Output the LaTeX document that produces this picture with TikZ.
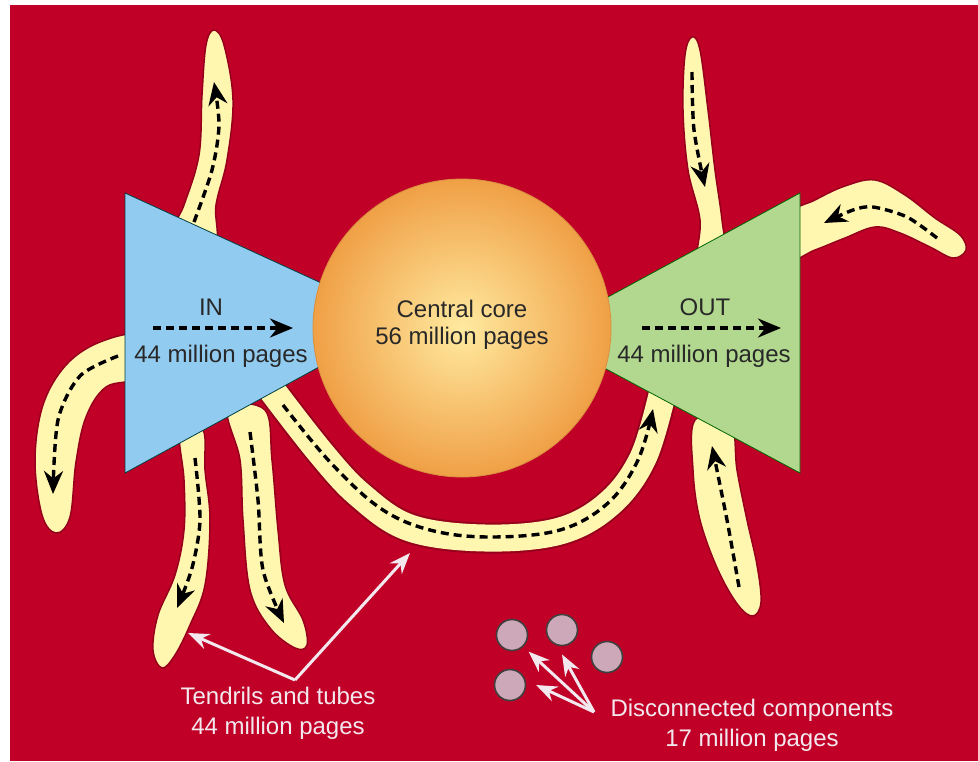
\documentclass[tikz,border=0pt]{standalone}
\usepackage{fontspec}
\setmainfont{Liberation Sans}
\usetikzlibrary{arrows.meta}
\usetikzlibrary{calc}
\definecolor{bgred}{RGB}{192,0,38}
\definecolor{inblue}{RGB}{146,203,240}
\definecolor{outgreen}{RGB}{178,216,143}
\definecolor{tendril}{RGB}{255,246,176}
\definecolor{halo}{RGB}{150,0,28}
\definecolor{coreyellow}{RGB}{255,234,160}
\definecolor{coreorange}{RGB}{240,160,70}
\definecolor{island}{RGB}{205,168,185}
\definecolor{paleink}{RGB}{242,232,238}
\definecolor{darkink}{RGB}{40,40,40}

\begin{document}
\begin{tikzpicture}[x=1pt, y=-1pt,
  tendrilshape/.style={fill=tendril, draw=halo, line width=1.5pt},
  flow/.style={line width=3.4pt, dash pattern=on 8pt off 5pt,
    -{Stealth[length=23pt,width=19pt]}},
  pointer/.style={draw=paleink, line width=3pt,
    -{Stealth[length=21pt,width=16pt,fill=paleink]}},
  redtext/.style={text=paleink, font=\fontsize{24}{30}\selectfont, align=center},
  darktext/.style={text=darkink, font=\fontsize{24}{29}\selectfont, align=center},
  comp/.style={circle, fill=island, draw=black!75, line width=1.6pt,
    minimum size=31pt, inner sep=0pt}]

%---------------------------------------
% Frame
%---------------------------------------
\fill[white] (0,0) rectangle (978,761);
\fill[bgred] (10,5) rectangle (978,761);
\useasboundingbox (0,0) rectangle (978,761);

%---------------------------------------
% Tendrils (under the panels)
%---------------------------------------
% in: upwards
\draw[tendrilshape] plot[smooth cycle, tension=0.6] coordinates {
  (170,240) (184,205) (199,155) (202,95) (206,45) (214,30) (224,45)
  (233,100) (227,160) (216,205) (214,245)};
\draw[flow] plot[smooth] coordinates {(194,222) (212,170) (219,125) (214,82)};

% in: left and down
\draw[tendrilshape] plot[smooth cycle, tension=0.6] coordinates {
  (140,336) (100,342) (66,365) (43,405) (35,460) (42,515) (56,533)
  (70,517) (76,462) (86,417) (106,387) (140,376)};
\draw[flow] plot[smooth] coordinates {(118,356) (80,376) (58,420) (53,494)};

% in: down (A)
\draw[tendrilshape] plot[smooth cycle, tension=0.6] coordinates {
  (180,430) (184,480) (184,530) (175,575) (158,615) (153,650) (162,668)
  (175,655) (190,625) (205,585) (210,520) (205,470) (203,430)};
\draw[flow] plot[smooth] coordinates {(195,458) (200,520) (192,568) (177,608)};

% in: down (B)
\draw[tendrilshape] plot[smooth cycle, tension=0.6] coordinates {
  (228,410) (240,460) (243,520) (250,590) (270,628) (295,648) (307,645)
  (303,620) (285,585) (278,530) (272,460) (265,410)};
\draw[flow] plot[smooth] coordinates {(250,432) (258,500) (263,570) (284,623)};

% out: bottom, upwards
\draw[tendrilshape] plot[smooth cycle, tension=0.6] coordinates {
  (695,420) (693,470) (700,520) (718,570) (738,605) (753,616) (761,602)
  (757,565) (747,520) (737,470) (730,420)};
\draw[flow] plot[smooth] coordinates {(739,587) (727,520) (712,446)};

% out: top, downwards
\draw[tendrilshape] plot[smooth cycle, tension=0.6] coordinates {
  (698,262) (700,220) (688,170) (683,110) (685,55) (692,37) (700,50)
  (708,110) (715,170) (722,220) (725,262)};
\draw[flow] plot[smooth] coordinates {(692,72) (694,130) (705,187)};

% out: right boomerang
\draw[tendrilshape] plot[smooth cycle, tension=0.6] coordinates {
  (790,215) (815,200) (845,186) (875,180) (905,195) (935,218) (960,235)
  (966,250) (953,258) (930,247) (900,233) (875,227) (845,238) (815,250)
  (790,258)};
\draw[flow] plot[smooth] coordinates {(937,238) (907,217) (873,207) (853,210) (824,223)};

% tube from in to out
\draw[halo, line width=31pt] plot[smooth, tension=0.6] coordinates {
  (268,385) (320,452) (360,495) (410,528) (485,538) (560,531) (610,503)
  (643,458) (662,395)};
\draw[tendril, line width=27pt] plot[smooth, tension=0.6] coordinates {
  (268,385) (320,452) (360,495) (410,528) (485,538) (560,531) (610,503)
  (643,458) (662,395)};
\draw[flow] plot[smooth, tension=0.6] coordinates {
  (283,405) (330,462) (380,508) (430,530) (490,537) (560,530) (608,503)
  (638,460) (653,409)};

%---------------------------------------
% Panels and core
%---------------------------------------
\filldraw[fill=inblue, draw=teal!50!black, line width=0.8pt]
  (125,193) -- (330,287) -- (330,361) -- (125,473) -- cycle;
\filldraw[fill=outgreen, draw=green!40!black, line width=0.8pt]
  (800,193) -- (595,304) -- (595,363) -- (800,473) -- cycle;

\shade[inner color=coreyellow, outer color=coreorange]
  (462,328) circle[radius=149pt];
\draw[coreorange!90!black, line width=0.8pt] (462,328) circle[radius=149pt];

% Labels in panels
\node[darktext] (inname) at (211,307) {IN};
\node[darktext] (incount) at (221,356) {44 million pages};
\coordinate (inarrowstart) at (153,328);
\coordinate (inarrowend) at (293,328);
\draw[flow] (inarrowstart) -- (inarrowend);

\node[darktext] (corename) at (462,309) {Central core};
\node[darktext] (corecount) at (462,338) {56 million pages};

\node[darktext] (outname) at (705,307) {OUT};
\node[darktext] (outcount) at (704,356) {44 million pages};
\coordinate (outarrowstart) at (642,328);
\coordinate (outarrowend) at (781,328);
\draw[flow] (outarrowstart) -- (outarrowend);

%---------------------------------------
% Tendrils and tubes label
%---------------------------------------
\node[redtext] (tendriltext) at (278,713) {Tendrils and tubes\\44 million pages};
\coordinate (tfork) at (295,680);
\coordinate (tendriltip) at (188,633);
\coordinate (tubetip) at (410,553);
\draw[pointer] (tfork) -- (tendriltip);
\draw[pointer] (tfork) -- (tubetip);

%---------------------------------------
% Disconnected components
%---------------------------------------
\node[comp] (compa) at (512,635) {};
\node[comp] (compb) at (562,630) {};
\node[comp] (compc) at (607,657) {};
\node[comp] (compd) at (510,685) {};

\node[redtext] (disctext) at (752,725) {Disconnected components\\17 million pages};
\coordinate (dfork) at (594,712);
\draw[pointer] (dfork) -- ($(compa)!1.45!(compa.south east)$);
\draw[pointer] (dfork) -- ($(compb)!1.5!(compb.south)$);
\draw[pointer] (dfork) -- ($(compd)!1.6!(compd.east)$);

\end{tikzpicture}
\end{document}
